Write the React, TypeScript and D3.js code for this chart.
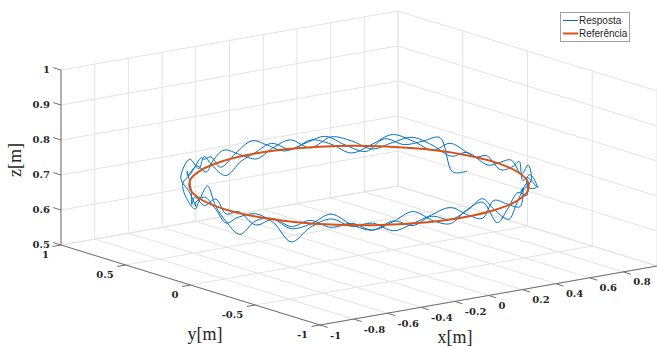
import React, { useEffect, useRef } from 'react';
import * as d3 from 'd3';

// axis ticks
const xTicks = [-1, -0.8, -0.6, -0.4, -0.2, 0, 0.2, 0.4, 0.6, 0.8, 1];
const xTickLabels = ['-1', '-0.8', '-0.6', '-0.4', '-0.2', '0', '0.2', '0.4', '0.6', '0.8', ''];
const yTicks = [-1, -0.5, 0, 0.5, 1];
const yTickLabels = ['-1', '-0.5', '0', '0.5', '1'];
const zTicks = [0.5, 0.6, 0.7, 0.8, 0.9, 1];
const zTickLabels = ['0.5', '0.6', '0.7', '0.8', '0.9', '1'];

// reference trajectory: circle in the xy plane (angle in degrees)
const refAngles = [0, 15, 30, 45, 60, 75, 90, 105, 120, 135, 150, 165, 180, 195, 210, 225, 240, 255, 270, 285, 300, 315, 330, 345];
const refRadius = 0.8;
const refHeight = 0.7;

// measured response, [angle deg, radius m, z m], three laps
const lap1: [number, number, number][] = [
  [13, 0.8, 0.655], [19, 0.8, 0.645], [24, 0.8, 0.738], [30, 0.79, 0.724], [37, 0.8, 0.708],
  [44, 0.81, 0.72], [50, 0.8, 0.684], [57, 0.8, 0.702], [64, 0.79, 0.73], [71, 0.8, 0.712],
  [78, 0.81, 0.694], [85, 0.8, 0.718], [92, 0.79, 0.74], [99, 0.8, 0.712], [106, 0.81, 0.682],
  [113, 0.8, 0.724], [120, 0.79, 0.73], [127, 0.77, 0.748], [134, 0.8, 0.715], [141, 0.83, 0.7],
  [148, 0.81, 0.666], [155, 0.79, 0.655], [162, 0.8, 0.69], [168, 0.79, 0.745], [175, 0.8, 0.7],
  [182, 0.81, 0.668], [188, 0.8, 0.64], [195, 0.8, 0.688], [202, 0.81, 0.704], [209, 0.8, 0.68],
  [216, 0.79, 0.698], [223, 0.8, 0.73], [230, 0.81, 0.703], [237, 0.8, 0.686], [244, 0.79, 0.706],
  [251, 0.8, 0.734], [258, 0.81, 0.704], [265, 0.8, 0.688], [272, 0.79, 0.716], [279, 0.8, 0.732],
  [286, 0.81, 0.664], [293, 0.8, 0.688], [300, 0.81, 0.726], [307, 0.82, 0.705], [314, 0.8, 0.742],
  [321, 0.84, 0.7], [328, 0.81, 0.722], [335, 0.79, 0.692], [342, 0.8, 0.733], [349, 0.81, 0.705],
  [356, 0.8, 0.684], [363, 0.79, 0.714], [369, 0.8, 0.7], [373, 0.8, 0.708],
];
const lap2: [number, number, number][] = [
  [380, 0.8, 0.726], [387, 0.81, 0.698], [394, 0.8, 0.72], [401, 0.79, 0.736], [408, 0.8, 0.705],
  [415, 0.81, 0.678], [422, 0.8, 0.706], [429, 0.79, 0.722], [436, 0.8, 0.698], [443, 0.81, 0.72],
  [450, 0.8, 0.703], [457, 0.79, 0.688], [464, 0.8, 0.656], [471, 0.81, 0.695], [478, 0.8, 0.734],
  [485, 0.79, 0.712], [492, 0.81, 0.752], [499, 0.84, 0.712], [506, 0.8, 0.686], [513, 0.78, 0.658],
  [520, 0.81, 0.68], [527, 0.8, 0.712], [534, 0.79, 0.688], [541, 0.8, 0.662], [548, 0.81, 0.69],
  [555, 0.8, 0.708], [562, 0.79, 0.688], [569, 0.8, 0.642], [576, 0.81, 0.69], [583, 0.8, 0.716],
  [590, 0.79, 0.695], [597, 0.8, 0.706], [604, 0.81, 0.684], [611, 0.8, 0.7], [618, 0.79, 0.718],
  [625, 0.8, 0.734], [632, 0.81, 0.705], [639, 0.8, 0.686], [646, 0.79, 0.726], [653, 0.8, 0.705],
  [660, 0.82, 0.686], [667, 0.8, 0.726], [674, 0.77, 0.7], [681, 0.81, 0.72], [688, 0.8, 0.75],
  [695, 0.79, 0.712], [702, 0.81, 0.694], [709, 0.8, 0.724], [716, 0.79, 0.705], [723, 0.8, 0.686],
  [733, 0.8, 0.708],
];
const lap3: [number, number, number][] = [
  [740, 0.81, 0.688], [747, 0.8, 0.714], [754, 0.79, 0.732], [761, 0.8, 0.712], [768, 0.81, 0.69],
  [775, 0.8, 0.714], [782, 0.79, 0.728], [789, 0.8, 0.698], [796, 0.81, 0.724], [803, 0.8, 0.708],
  [810, 0.79, 0.686], [817, 0.8, 0.706], [824, 0.81, 0.728], [831, 0.8, 0.714], [838, 0.79, 0.69],
  [845, 0.8, 0.72], [852, 0.82, 0.705], [859, 0.81, 0.732], [866, 0.79, 0.688], [873, 0.8, 0.664],
  [880, 0.81, 0.7], [887, 0.8, 0.688], [894, 0.79, 0.718], [901, 0.8, 0.688], [908, 0.81, 0.706],
  [915, 0.8, 0.676], [922, 0.79, 0.7], [929, 0.8, 0.686], [936, 0.81, 0.71], [943, 0.8, 0.692],
  [950, 0.79, 0.704], [957, 0.8, 0.686], [964, 0.81, 0.712], [971, 0.8, 0.694], [978, 0.79, 0.714],
  [985, 0.8, 0.7], [992, 0.81, 0.722], [999, 0.8, 0.742], [1006, 0.79, 0.7], [1013, 0.81, 0.662],
  [1020, 0.8, 0.69], [1027, 0.82, 0.74], [1034, 0.81, 0.712], [1040, 0.83, 0.7], [1045, 0.84, 0.696],
];

const legendNames = ['Resposta', 'Referência'];

const W = 657;
const H = 347;
const BLUE = '#0072BD';
const ORANGE = '#D95319';

export default function App() {
  const ref = useRef<SVGSVGElement>(null);

  useEffect(() => {
    const svg = d3.select(ref.current);
    svg.selectAll('*').remove();

    // oblique projection of the 3d box: corner (x=-1, y=1, z=0.5) at (61, 245)
    const sx = d3.scaleLinear().domain([-1, 1]).range([0, 1]);
    const sy = d3.scaleLinear().domain([1, -1]).range([0, 1]);
    const sz = d3.scaleLinear().domain([0.5, 1]).range([0, 1]);
    const o = [61, 245];
    const vx = [337, -59];
    const vy = [259, 80];
    const vz = [0, -175];
    const proj = (x: number, y: number, z: number): [number, number] => {
      const a = sx(x), b = sy(y), c = sz(z);
      return [o[0] + a * vx[0] + b * vy[0] + c * vz[0], o[1] + a * vx[1] + b * vy[1] + c * vz[1]];
    };

    const seg = (g: any, p1: [number, number], p2: [number, number], color: string, w: number) =>
      g.append('line')
        .attr('x1', p1[0]).attr('y1', p1[1])
        .attr('x2', p2[0]).attr('y2', p2[1])
        .attr('stroke', color).attr('stroke-width', w);

    // grid
    const grid = svg.append('g');
    const gc = '#e3e3e3';
    xTicks.forEach((x) => {
      seg(grid, proj(x, 1, 0.5), proj(x, -1, 0.5), gc, 1);
      seg(grid, proj(x, 1, 0.5), proj(x, 1, 1), gc, 1);
    });
    yTicks.forEach((y) => {
      seg(grid, proj(-1, y, 0.5), proj(1, y, 0.5), gc, 1);
      seg(grid, proj(1, y, 0.5), proj(1, y, 1), gc, 1);
    });
    zTicks.forEach((z) => {
      seg(grid, proj(-1, 1, z), proj(1, 1, z), gc, 1);
      seg(grid, proj(1, 1, z), proj(1, -1, z), gc, 1);
    });

    // axes
    const ax = svg.append('g');
    const ac = '#6e6e6e';
    seg(ax, proj(-1, -1, 0.5), proj(1, -1, 0.5), ac, 1);
    seg(ax, proj(-1, 1, 0.5), proj(-1, -1, 0.5), ac, 1);
    seg(ax, proj(-1, 1, 0.5), proj(-1, 1, 1), ac, 1);

    const tickFont = 'DejaVu Serif, serif';
    xTicks.forEach((x, i) => {
      const p = proj(x, -1, 0.5);
      seg(ax, p, proj(x, -1.06, 0.5), ac, 1);
      if (xTickLabels[i]) {
        ax.append('text').attr('x', p[0] + 10).attr('y', p[1] + 10).attr('dy', '0.35em')
          .attr('font-family', tickFont).attr('font-weight', 'bold').attr('font-size', 10)
          .attr('fill', '#262626').text(xTickLabels[i]);
      }
    });
    yTicks.forEach((y, i) => {
      const p = proj(-1, y, 0.5);
      seg(ax, p, proj(-1.05, y, 0.5), ac, 1);
      ax.append('text').attr('x', p[0] - 12).attr('y', p[1] + 9.5).attr('dy', '0.35em')
        .attr('text-anchor', 'end')
        .attr('font-family', tickFont).attr('font-weight', 'bold').attr('font-size', 10)
        .attr('fill', '#262626').text(yTickLabels[i]);
    });
    zTicks.forEach((z, i) => {
      const p = proj(-1, 1, z);
      seg(ax, p, proj(-1, 1.06, z), ac, 1);
      ax.append('text').attr('x', p[0] - 11).attr('y', p[1] - 1).attr('dy', '0.35em')
        .attr('text-anchor', 'end')
        .attr('font-family', tickFont).attr('font-weight', 'bold').attr('font-size', 10)
        .attr('fill', '#262626').text(zTickLabels[i]);
    });

    const labFont = 'Liberation Serif, serif';
    ax.append('text').attr('x', 455).attr('y', 343).attr('text-anchor', 'middle')
      .attr('font-family', labFont).attr('font-size', 18).attr('fill', '#262626').text('x[m]');
    ax.append('text').attr('x', 205).attr('y', 340).attr('text-anchor', 'middle')
      .attr('font-family', labFont).attr('font-size', 18).attr('fill', '#262626').text('y[m]');
    ax.append('text').attr('transform', 'translate(21,160) rotate(-90)').attr('text-anchor', 'middle')
      .attr('font-family', labFont).attr('font-size', 18).attr('fill', '#262626').text('z[m]');

    // response
    const toRad = (d: number) => (d * Math.PI) / 180;
    const resp = [...lap1, ...lap2, ...lap3].map(([t, r, z]) =>
      proj(r * Math.cos(toRad(t)), r * Math.sin(toRad(t)), z));
    svg.append('path')
      .attr('d', d3.line().curve(d3.curveCatmullRom.alpha(0.5))(resp))
      .attr('fill', 'none').attr('stroke', BLUE).attr('stroke-width', 1);

    // reference
    const refPts = refAngles.map((t) =>
      proj(refRadius * Math.cos(toRad(t)), refRadius * Math.sin(toRad(t)), refHeight));
    svg.append('path')
      .attr('d', d3.line().curve(d3.curveCatmullRomClosed.alpha(0.5))(refPts))
      .attr('fill', 'none').attr('stroke', ORANGE).attr('stroke-width', 2);

    // legend
    const lg = svg.append('g');
    lg.append('rect').attr('x', 560.5).attr('y', 12.5).attr('width', 69).attr('height', 29)
      .attr('fill', '#fff').attr('stroke', '#a0a0a0').attr('stroke-width', 1);
    const colors = [BLUE, ORANGE];
    const widths = [1, 2];
    legendNames.forEach((name, i) => {
      const yy = 20.5 + i * 13;
      lg.append('line').attr('x1', 563).attr('x2', 578).attr('y1', yy).attr('y2', yy)
        .attr('stroke', colors[i]).attr('stroke-width', widths[i]);
      lg.append('text').attr('x', 579).attr('y', yy).attr('dy', '0.35em')
        .attr('font-family', 'Liberation Sans, Arial, sans-serif').attr('font-size', 10)
        .attr('fill', '#262626').text(name);
    });
  }, []);

  return (
    <svg ref={ref} width={W} height={H}
      style={{ position: 'absolute', left: 0, top: 0, background: '#fff' }} />
  );
}
